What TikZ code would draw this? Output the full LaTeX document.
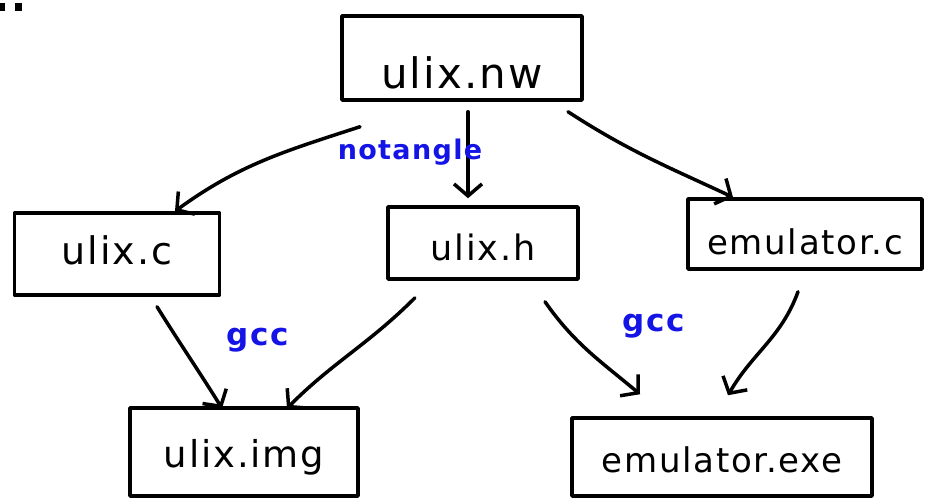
\documentclass[tikz,border=0pt]{standalone}
\usepackage{fontspec}
\newfontfamily\hand[LetterSpace=5]{DejaVu Sans}
\usetikzlibrary{arrows.meta}
\definecolor{inkblue}{RGB}{20,20,230}
\begin{document}
\begin{tikzpicture}[x=1pt,y=1pt,
  fs/.style={font=\hand\fontsize{#1}{#1}\selectfont},
  fsb/.style={font=\hand\bfseries\fontsize{#1}{#1}\selectfont},
  box/.style={draw, line width=3.5pt, inner sep=0pt, line join=round,
    text depth=0pt},
  conn/.style={line width=3.5pt, line cap=round,
    -{Straight Barb[length=12pt,width=28pt,line width=3.5pt]}},
  tag/.style={text=inkblue, inner sep=0pt}]
\useasboundingbox (0,0) rectangle (926,-500);
% stray marks
\fill (0,-3) rectangle (5,-11);
\fill (15,-3) rectangle (22,-11);
% boxes
\node[box, fs=42, minimum width=240pt, minimum height=84pt, text height=62pt] (nw) at (462,-58) {ulix.nw};
\node[box, fs=38, minimum width=205pt, minimum height=82pt, text height=20pt] (c) at (117,-254) {ulix.c};
\node[box, fs=35, minimum width=190pt, minimum height=72pt, text height=34pt] (h) at (483,-243) {ulix.h};
\node[box, fs=34, minimum width=234pt, minimum height=70pt, text height=40pt] (emc) at (805,-234) {emulator.c};
\node[box, fs=37, minimum width=228pt, minimum height=88pt, text height=30pt] (img) at (244,-452) {ulix.img};
\node[box, fs=34, minimum width=300pt, minimum height=78pt, text height=30pt] (exe) at (722,-457) {emulator.exe};
% connectors
\draw[conn] ([shift={(-102,-25)}]nw.south) to[out=198,in=36] ([xshift=58]c.north);
\draw[conn] ([shift={(6,-10)}]nw.south) -- ([shift={(-15,7)}]h.north);
\draw[conn] ([shift={(106,-10)}]nw.south) to[out=-33,in=155] ([xshift=-72]emc.north);
\draw[conn] ([shift={(40,-10)}]c.south) to[out=-58,in=122] ([shift={(-22,-2)}]img.north);
\draw[conn] ([shift={(-68,-17)}]h.south) to[out=-135,in=45] ([shift={(43,-2)}]img.north);
\draw[conn] ([shift={(62,-21)}]h.south) to[out=-55,in=140] ([shift={(-82,22)}]exe.north);
\draw[conn] ([shift={(-7,-21)}]emc.south) to[out=-110,in=60] ([shift={(6,21)}]exe.north);
% labels
\node[tag, fsb=27] (lnot) at (410,-152) {notangle};
\node[tag, fsb=31] (lgcc1) at (258,-340) {gcc};
\node[tag, fsb=31] (lgcc2) at (654,-326) {gcc};
\end{tikzpicture}
\end{document}
